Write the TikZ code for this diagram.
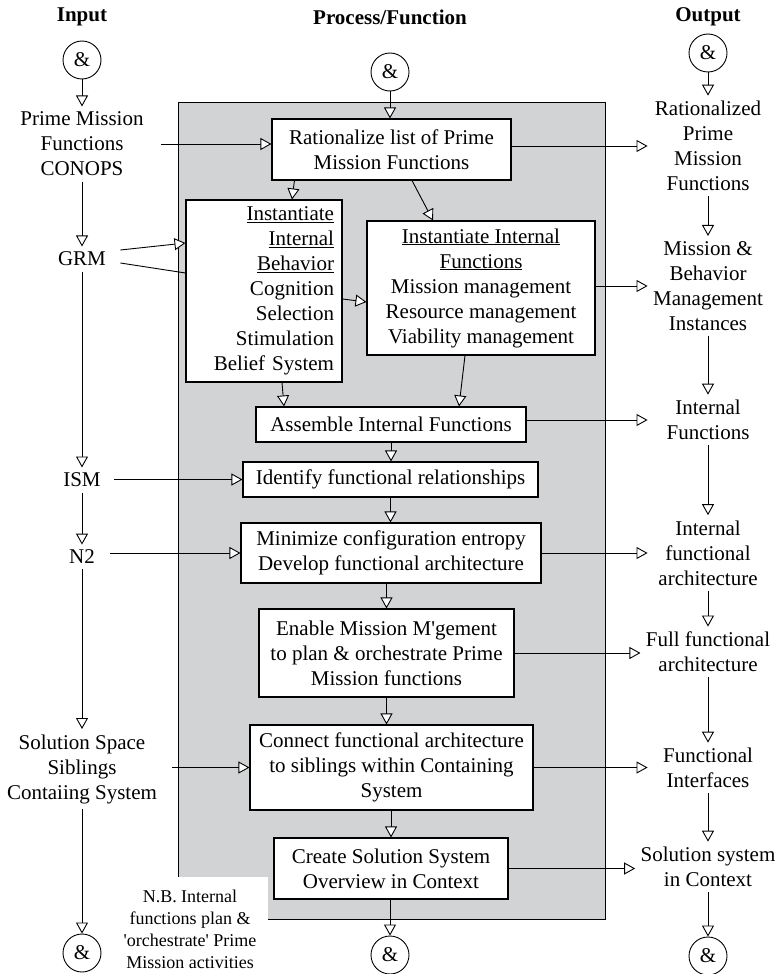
\documentclass[tikz,border=0pt]{standalone}
\usepackage{fontspec}
\setmainfont{Liberation Serif}
\usetikzlibrary{arrows.meta,calc}
\definecolor{panelGray}{RGB}{209,211,212}
\newcommand{\bodyfont}{\fontsize{21}{25}\selectfont}
\newcommand{\headfont}{\fontsize{21}{25}\selectfont\bfseries}
\newcommand{\notefont}{\fontsize{18}{22}\selectfont}

\begin{document}
\begin{tikzpicture}[x=1pt,y=-1pt,line width=0.9pt,font=\bodyfont,
    >={Triangle[length=11pt,width=12pt,fill=white]},
    proc/.style={draw,fill=white,line width=1.1pt,align=center,inner sep=4pt},
    io/.style={align=center,inner sep=5pt},
    outtext/.style={io,minimum width=120pt},
    andnode/.style={draw,circle,minimum size=38pt,inner sep=0pt}]
  \useasboundingbox (0,0) rectangle (778,974);

  \fill[panelGray,draw=black] (178,102) rectangle (605,919);
  \node[fill=white,minimum width=156pt,minimum height=104pt,align=center,font=\notefont] (nb) at (190,929)
    {N.B. Internal\\functions plan \&\\\textquotesingle orchestrate\textquotesingle{} Prime\\Mission activities};

  \node[font=\headfont] (hin) at (82,17) {Input};
  \node[font=\headfont] (hproc) at (390,17) {Process/Function};
  \node[font=\headfont] (hout) at (708,17) {Output};

  \node[andnode] (ic1) at (82,60) {\&};
  \node[andnode] (pc1) at (390,72) {\&};
  \node[andnode] (oc1) at (708,53) {\&};
  \node[andnode] (ic2) at (82,953) {\&};
  \node[andnode] (pc2) at (390,955) {\&};
  \node[andnode] (oc2) at (708,956) {\&};

  \node[proc,minimum width=239pt,minimum height=61pt] (rat) at (391.5,149.5) {Rationalize list of Prime\\Mission Functions};
  \node[proc,minimum width=156pt,minimum height=182pt,text width=140pt,align=right,inner xsep=8pt] (ibeh) at (264,291)
    {\underline{Instantiate}\\\underline{Internal}\\\underline{Behavior}\\Cognition\\Selection\\Stimulation\\Belief System};
  \node[proc,minimum width=228pt,minimum height=134pt] (ifun) at (481,288)
    {\underline{Instantiate Internal}\\\underline{Functions}\\Mission management\\Resource management\\Viability management};
  \node[proc,minimum width=270pt,minimum height=35pt] (asm) at (391,424.5) {Assemble Internal Functions};
  \node[proc,minimum width=295pt,minimum height=35pt] (idf) at (390.5,479.5) {Identify functional relationships};
  \node[proc,minimum width=300pt,minimum height=60pt] (min) at (391,553) {Minimize configuration entropy\\Develop functional architecture};
  \node[proc,minimum width=255pt,minimum height=88pt] (enb) at (386.5,653)
    {Enable Mission M\textquotesingle gement\\to plan \& orchestrate Prime\\Mission functions};
  \node[proc,minimum width=283pt,minimum height=85pt] (con) at (391.5,767.5)
    {Connect functional architecture\\to siblings within Containing\\System};
  \node[proc,minimum width=234pt,minimum height=61pt] (crt) at (391,868.5) {Create Solution System\\Overview in Context};

  \node[io] (pmf) at (82,144) {Prime Mission\\Functions\\CONOPS};
  \node[io] (grm) at (82,259) {GRM};
  \node[io] (ism) at (82,480) {ISM};
  \node[io] (n2) at (82,557) {N2};
  \node[io] (sss) at (82,769) {Solution Space\\Siblings\\Contaiing System};

  \node[outtext] (rpm) at (708,146) {Rationalized\\Prime\\Mission\\Functions};
  \node[outtext] (mbm) at (708,286) {Mission \&\\Behavior\\Management\\Instances};
  \node[outtext] (inf) at (708,420) {Internal\\Functions};
  \node[outtext] (ifa) at (708,553) {Internal\\functional\\architecture};
  \node[outtext] (ffa) at (708,652) {Full functional\\architecture};
  \node[outtext] (fif) at (708,768) {Functional\\Interfaces};
  \node[outtext] (ssc) at (708,867) {Solution system\\in Context};

  \draw[->] (ic1.south) -- (pmf.north);
  \draw[->] (pmf.south) -- (grm.north);
  \draw[->] (grm.south) -- (ism.north);
  \draw[->] (ism.south) -- (n2.north);
  \draw[->] (n2.south) -- (sss.north);
  \draw[->] (sss.south) -- (ic2.north);

  \draw[->] (oc1.south) -- (rpm.north);
  \draw[->] (rpm.south) -- (mbm.north);
  \draw[->] (mbm.south) -- (inf.north);
  \draw[->] (inf.south) -- (ifa.north);
  \draw[->] (ifa.south) -- (ffa.north);
  \draw[->] (ffa.south) -- (fif.north);
  \draw[->] (fif.south) -- (ssc.north);
  \draw[->] (ssc.south) -- (oc2.north);

  \draw[->] (pc1.south) -- (pc1.south |- rat.north);
  \draw[->] ($(rat.south west)+(23,0)$) -- ($(ibeh.north)+(28,0)$);
  \draw[->] ($(rat.south)+(20.5,0)$) -- ($(ifun.north)+(-48,0)$);
  \draw[->] ($(ibeh.east)+(0,8)$) -- ($(ifun.west)+(0,14)$);
  \draw[->] ($(ibeh.south)+(18,0)$) -- ($(asm.north)+(-107,0)$);
  \draw[->] ($(ifun.south)+(-16,0)$) -- ($(asm.north)+(68,0)$);
  \draw[->] (asm.south) -- (asm.south |- idf.north);
  \draw[->] (idf.south) -- (idf.south |- min.north);
  \draw[->] (enb.north |- min.south) -- (enb.north);
  \draw[->] (enb.south) -- (enb.south |- con.north);
  \draw[->] (crt.north |- con.south) -- (crt.north);
  \draw[->] (pc2.north |- crt.south) -- (pc2.north);

  \draw[->] ($(grm.east)+(9,-9)$) -- ($(ibeh.west)+(0,-48)$);
  \draw ($(grm.east)+(9,4)$) -- ($(ibeh.west)+(0,-18)$);
  \draw[->,shorten <=12pt] (pmf.east) -- (pmf.east -| rat.west);
  \draw[->,shorten <=8pt] (ism.east |- idf.west) -- (idf.west);
  \draw[->,shorten <=10pt] (n2.east |- min.west) -- (min.west);
  \draw[->,shorten <=10pt] (sss.east |- con.west) -- (con.west);

  \draw[->] (rat.east |- rpm.west) -- (rpm.west);
  \draw[->] (ifun.east |- mbm.west) -- (mbm.west);
  \draw[->] (asm.east |- inf.west) -- (inf.west);
  \draw[->] (min.east) -- (min.east -| ifa.west);
  \draw[->] (enb.east) -- (enb.east -| ffa.west);
  \draw[->] (con.east) -- (con.east -| fif.west);
  \draw[->] (crt.east) -- (crt.east -| ssc.west);
\end{tikzpicture}
\end{document}
